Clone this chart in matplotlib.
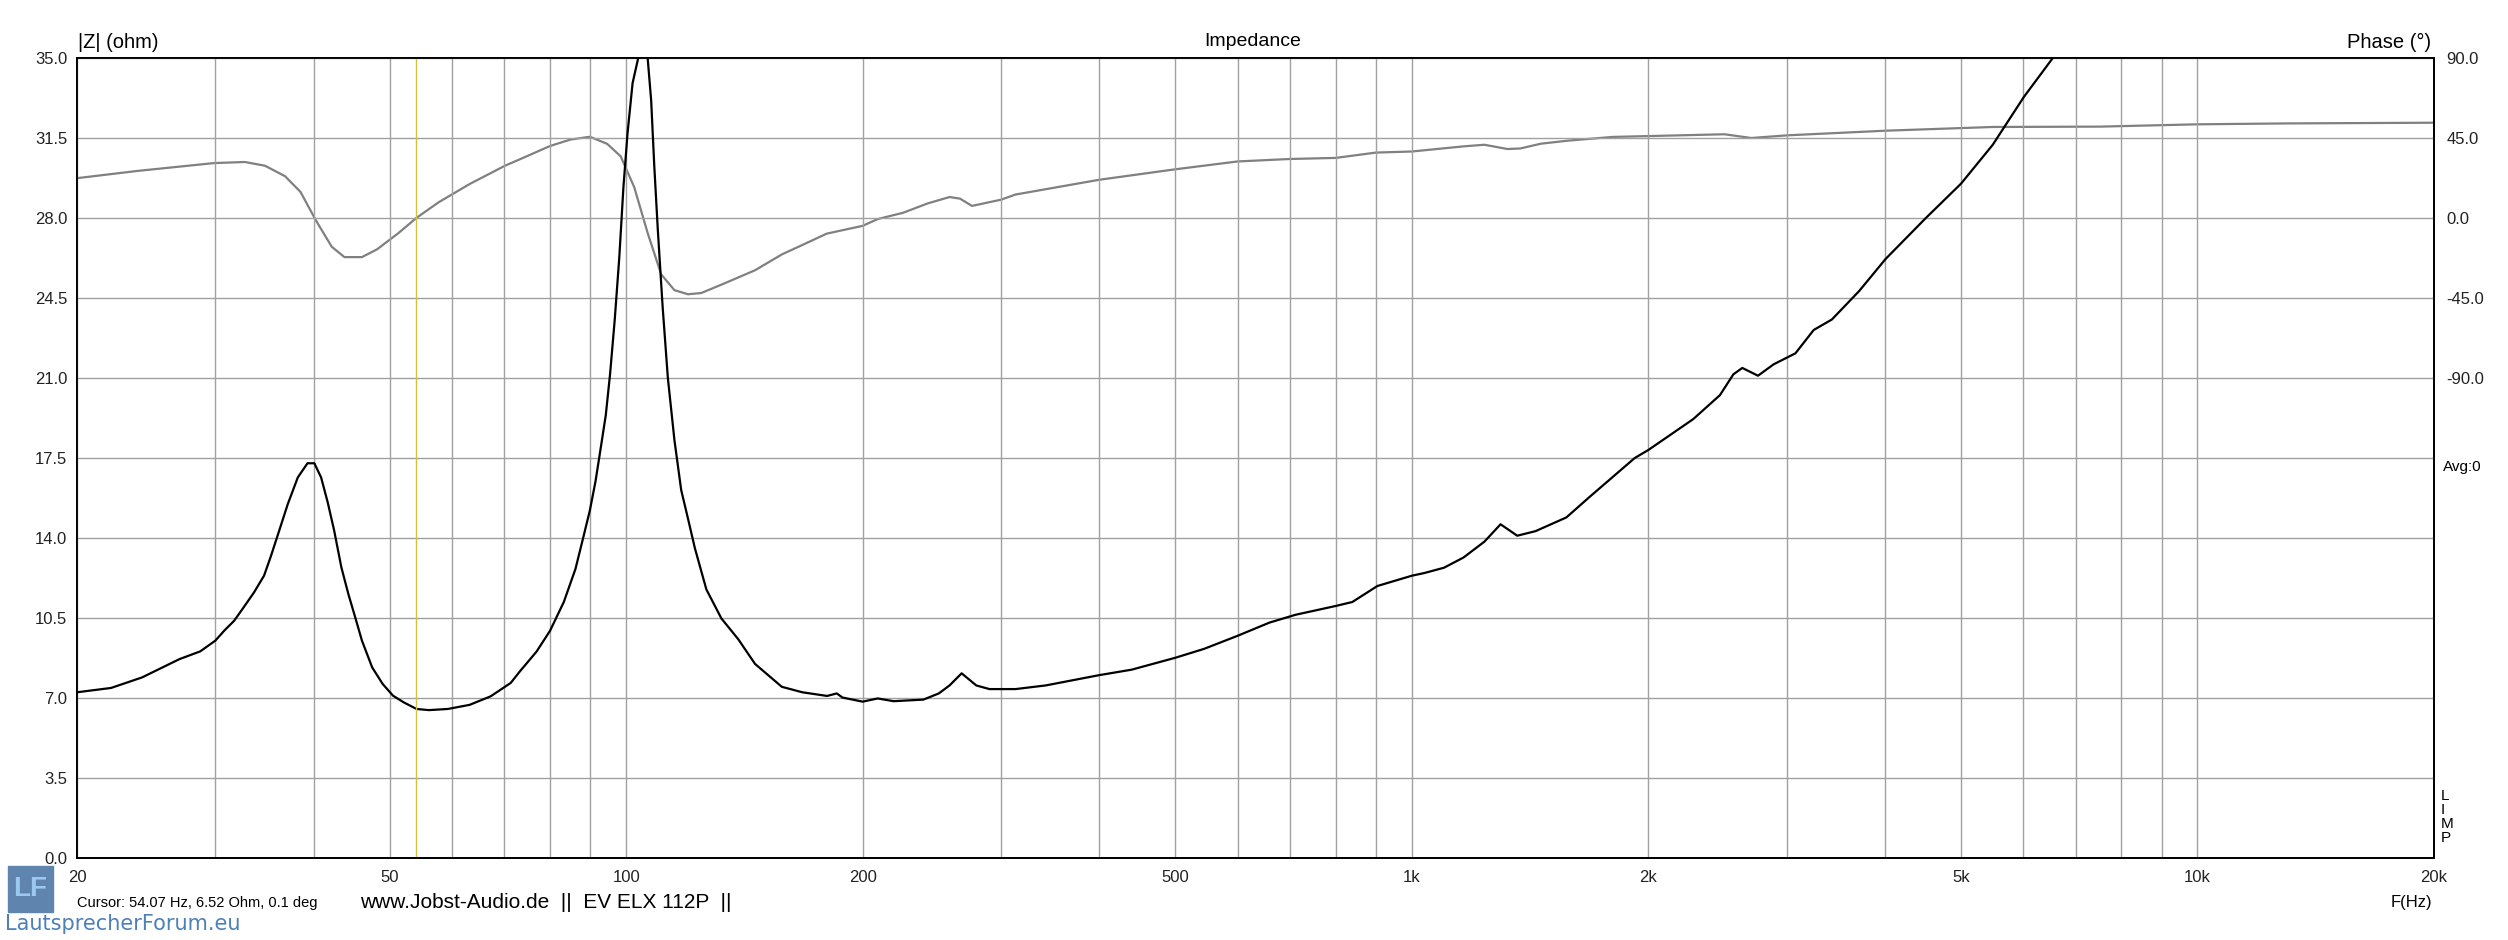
import matplotlib
matplotlib.use('Agg')
import matplotlib.pyplot as plt
from matplotlib.patches import Rectangle
from matplotlib.ticker import FixedLocator, NullFormatter

plt.rcParams['font.family'] = ['Liberation Sans', 'DejaVu Sans']

# impedance magnitude |Z| (ohm)
imp_freq = [20, 22.1, 24.2, 27.0, 28.7, 30.0, 30.8, 31.7, 32.6, 33.6, 34.6, 35.3,
            36.0, 37.1, 38.2, 39.3, 40.1, 40.9, 41.7, 42.5, 43.4, 44.3, 45.2,
            46.1, 47.5, 49.0, 50.5, 52.1, 54.1, 56.1, 59.3, 63.2, 67.2, 71.3,
            73.3, 76.9, 80.0, 83.3, 86.2, 88.3, 89.9, 91.4, 92.8, 94.2, 95.4,
            96.7, 98.0, 99.2, 100.4, 101.9, 103.6, 105.0, 106.5, 107.6, 108.6,
            109.7, 111.3, 113.0, 115.2, 117.5, 119.9, 122.3, 126.5, 132.2, 138.9,
            145.9, 157.8, 167.6,
            180.2, 185.4, 188.5, 200, 209, 219, 239, 250, 258, 267.3, 279, 290,
            313, 342, 400, 440, 500, 544, 600, 659, 711, 801, 840, 904, 1000,
            1038, 1099, 1164, 1237, 1297, 1362, 1437, 1573, 1684, 1922, 2000,
            2281, 2467, 2566, 2634, 2758, 2888, 3078, 3247, 3425, 3709, 4007,
            4511, 5000, 5487, 6013, 6544, 6600]
imp_ohm = [7.25, 7.44, 7.9, 8.7, 9.04, 9.51, 9.95, 10.38, 10.97, 11.62, 12.35, 13.2,
           14.1, 15.49, 16.65, 17.27, 17.27, 16.65, 15.56, 14.32, 12.72, 11.55, 10.53,
           9.51, 8.34, 7.61, 7.1, 6.81, 6.52, 6.47, 6.52, 6.7, 7.07, 7.66,
           8.18, 9.03, 9.94, 11.2, 12.65, 14.1, 15.2, 16.47, 17.92, 19.37, 21.18,
           23.54, 26.26, 29.34, 31.7, 33.9, 35.0, 37.0, 35.0, 33.15, 30.25,
           27.53, 24.08, 21.0, 18.28, 16.1, 14.83, 13.56, 11.75, 10.48, 9.57,
           8.49, 7.49, 7.25,
           7.09, 7.2, 7.02, 6.84, 6.98, 6.86, 6.93, 7.2, 7.55, 8.08, 7.55, 7.39,
           7.39, 7.55, 8.0, 8.24, 8.76, 9.15, 9.72, 10.3, 10.64, 11.03, 11.2, 11.9, 12.35,
           12.47, 12.7, 13.15, 13.84, 14.6, 14.1, 14.3, 14.9, 15.8, 17.5, 17.85,
           19.2, 20.25, 21.16, 21.44, 21.1, 21.6, 22.08, 23.1, 23.56, 24.8, 26.2,
           28.0, 29.5, 31.2, 33.3, 35.0, 35.3]

# impedance phase (degrees)
ph_freq = [20, 23.9, 29.9, 32.7, 34.7, 36.8, 38.5, 40.3, 42.2, 43.8, 46.1, 48.2,
           51.2, 54.1, 57.7, 63.2, 70.1, 73.3, 80.0, 84.9, 89.9, 94.6, 98.4,
           102.4, 106.5, 110.8, 115.2, 119.9, 124.6, 132.2, 145.9, 157.8, 167,
           180, 200, 209, 225, 242, 258, 266, 275.5, 300, 313, 400, 500, 600,
           700, 800, 900, 1000, 1164, 1237, 1324, 1374, 1460, 1580, 1800, 2500,
           2705, 3005, 4006, 5487, 7519, 10000, 13000, 20000]
ph_deg = [22.4, 26.5, 30.9, 31.5, 29.4, 23.5, 14.7, -1.5, -16.2, -22, -22, -17.6,
          -8.8, 0.1, 8.8, 19.1, 29.4, 33.1, 40.5, 44.1, 45.7, 41.7, 34.7,
          17.3, -8.4, -31.7, -40.6, -42.9, -42.2, -37.5, -29.4, -20.5, -15.5,
          -8.8, -4.4, -0.6, 2.9, 8.2, 11.8, 10.9, 6.8, 10.3, 13.2, 21.5, 27.4, 31.8,
          33.2, 33.8, 36.8, 37.4, 40.3, 41.2, 38.8, 39.1, 41.8, 43.5, 45.6, 47.1,
          45.0, 46.5, 49.1, 51.2, 51.4, 52.7, 53.2, 53.6]

cursor_freq = 54.07
x_major = [20, 50, 100, 200, 500, 1000, 2000, 5000, 10000, 20000]
x_labels = ['20', '50', '100', '200', '500', '1k', '2k', '5k', '10k', '20k']
x_minor = [m * d for d in (10, 100, 1000, 10000) for m in range(1, 10)
           if 20 <= m * d <= 20000]
z_ticks = [i * 3.5 for i in range(11)]
ph_ticks = [90, 45, 0, -45, -90]

W, H = 2508, 940
fig = plt.figure(figsize=(W / 100, H / 100), dpi=100, facecolor='white')
ax2 = fig.add_axes([77 / W, 1 - 858 / H, (2434 - 77) / W, 800 / H])
ax = fig.add_axes(ax2.get_position())
ax.set_zorder(ax2.get_zorder() + 1)
ax.patch.set_visible(False)

grid_col = '#a0a0a0'
ax.set_xscale('log')
ax2.set_xscale('log')
ax.set_xlim(20, 20000)
ax2.set_xlim(20, 20000)
ax.set_ylim(0, 35)
ax2.set_ylim(-360, 90)

ax.xaxis.set_major_locator(FixedLocator(x_major))
ax.xaxis.set_minor_locator(FixedLocator(x_minor))
ax.set_xticklabels(x_labels)
ax.xaxis.set_minor_formatter(NullFormatter())
ax.set_yticks(z_ticks)
ax.set_yticklabels(['%.1f' % v for v in z_ticks])
ax.grid(True, which='both', color=grid_col, lw=1.0)
ax.tick_params(which='both', length=0, labelsize=12, colors='#222222')
ax.tick_params(axis='x', pad=9)
ax.tick_params(axis='y', pad=7)

ax2.set_xticks([])
ax2.set_xticks([], minor=True)
ax2.yaxis.tick_right()
ax2.set_yticks(ph_ticks)
ax2.set_yticklabels(['%.1f' % v for v in ph_ticks])
ax2.tick_params(length=0, labelsize=12, pad=9, colors='#222222')

for a in (ax, ax2):
    for s in a.spines.values():
        s.set_color('black')
        s.set_linewidth(1.3)

ax2.plot(ph_freq, ph_deg, color='#808080', lw=1.6)
ax.plot(imp_freq, imp_ohm, color='black', lw=1.6)
ax.axvline(cursor_freq, color='#d2c23c', lw=1.0)

# header texts
fig.text(78 / W, 1 - 42 / H, '|Z| (ohm)', fontsize=14.5, va='center', ha='left')
fig.text(1253 / W, 1 - 42 / H, 'Impedance', fontsize=14, va='center', ha='center')
fig.text(2431 / W, 1 - 42 / H, 'Phase (\u00b0)', fontsize=14.5, va='center', ha='right')
fig.text(2443 / W, 1 - 467 / H, 'Avg:0', fontsize=11, va='center', ha='left')
fig.text(2441 / W, 1 - 817 / H, 'L\nI\nM\nP', fontsize=11, va='center', ha='left',
         linespacing=1.0)
fig.text(2432 / W, 1 - 902 / H, 'F(Hz)', fontsize=12, va='center', ha='right')

# footer
fig.text(77 / W, 1 - 903 / H, 'Cursor: 54.07 Hz, 6.52 Ohm, 0.1 deg', fontsize=10.5,
         va='center', ha='left')
fig.text(360 / W, 1 - 902 / H, 'www.Jobst-Audio.de  ||  EV ELX 112P  ||', fontsize=15,
         va='center', ha='left')
fig.patches.append(Rectangle((8 / W, 1 - 912 / H), 45 / W, 46 / H,
                             transform=fig.transFigure, color='#5f84ad', zorder=1))
fig.text(30 / W, 1 - 889 / H, 'LF', fontsize=20, fontweight='bold', color='#9cc8f0',
         va='center', ha='center', zorder=2)
fig.text(5 / W, 1 - 924 / H, 'LautsprecherForum.eu', fontsize=15, color='#4d80b8',
         family='DejaVu Sans', va='center', ha='left')

fig.savefig('out.png', dpi=100, facecolor='white')
